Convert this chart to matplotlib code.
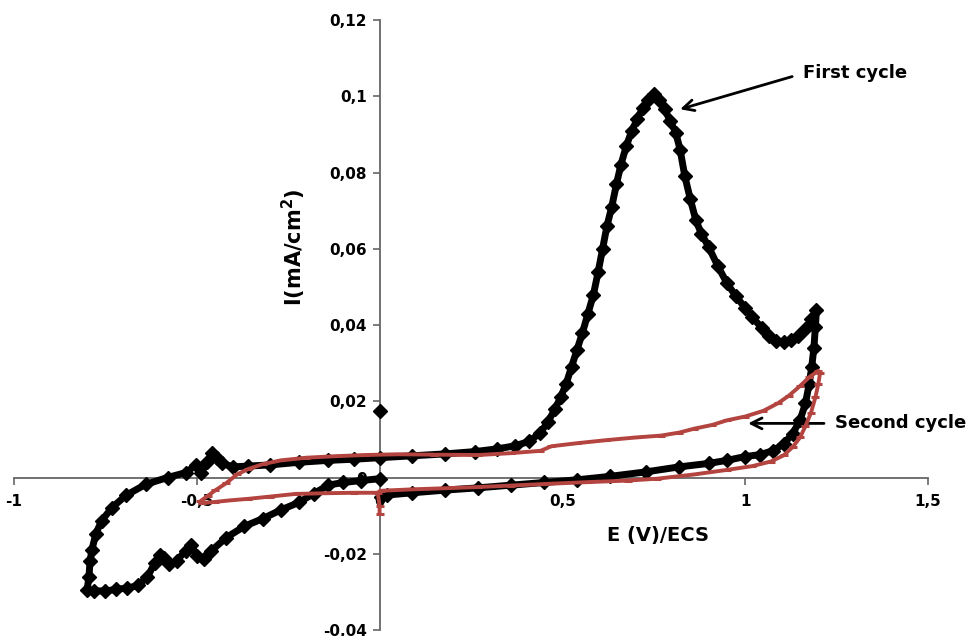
import matplotlib
matplotlib.use("Agg")
import matplotlib.pyplot as plt

plt.rcParams['font.family'] = ['DejaVu Sans']

# first cycle (black diamonds): transient point, then 0 -> -0.8 -> 1.2 -> 0
start_E = [0.0]
start_I = [0.0175]

first_E = [0.0, -0.05, -0.10, -0.14, -0.18, -0.22, -0.27, -0.32, -0.37, -0.42,
           -0.46, -0.48, -0.50, -0.515, -0.53, -0.555, -0.575, -0.59, -0.60, -0.615,
           -0.635, -0.66, -0.69, -0.72, -0.75, -0.78, -0.80,
           -0.795, -0.792, -0.787, -0.776, -0.76, -0.732, -0.694, -0.64, -0.58, -0.53,
           -0.503, -0.488, -0.472, -0.459, -0.445, -0.432, -0.40, -0.36, -0.30, -0.22,
           -0.14, -0.07, 0.0, 0.09, 0.18, 0.26, 0.32, 0.37, 0.41, 0.44,
           0.46, 0.48, 0.495, 0.51, 0.525, 0.54, 0.555, 0.57, 0.585, 0.598,
           0.61, 0.622, 0.635, 0.648, 0.66, 0.675, 0.69, 0.705, 0.72, 0.735,
           0.75, 0.765, 0.78, 0.795, 0.81, 0.822, 0.835, 0.85, 0.865, 0.88,
           0.90, 0.925, 0.95, 0.975, 1.0, 1.02, 1.045, 1.065, 1.085, 1.105,
           1.125, 1.145, 1.165, 1.18, 1.195,
           1.192, 1.188, 1.182, 1.175, 1.165, 1.15, 1.13, 1.105, 1.075, 1.04,
           1.0, 0.95, 0.90, 0.82, 0.73, 0.63, 0.54, 0.45, 0.36, 0.27,
           0.18, 0.09, 0.02, 0.003]
first_I = [-0.0003, -0.0008, -0.0013, -0.002, -0.0042, -0.0065, -0.0085, -0.0108, -0.0128, -0.0158,
           -0.0192, -0.0213, -0.0205, -0.0176, -0.0192, -0.0218, -0.0228, -0.021, -0.0203, -0.0225,
           -0.026, -0.0283, -0.029, -0.0293, -0.0298, -0.0297, -0.0295,
           -0.026, -0.022, -0.019, -0.0147, -0.0113, -0.0079, -0.0047, -0.0018, 0.0, 0.0013,
           0.0032, 0.0012, 0.004, 0.0064, 0.0052, 0.0037, 0.0028, 0.003, 0.0033, 0.004,
           0.0045, 0.0048, 0.0052, 0.0057, 0.0062, 0.0068, 0.0075, 0.0083, 0.0095, 0.0118,
           0.0145, 0.018, 0.021, 0.0245, 0.029, 0.0335, 0.038, 0.043, 0.048, 0.054,
           0.060, 0.066, 0.071, 0.077, 0.082, 0.087, 0.091, 0.094, 0.097, 0.099,
           0.1005, 0.099, 0.0966, 0.0935, 0.0905, 0.086, 0.079, 0.073, 0.0675, 0.064,
           0.0605, 0.0555, 0.051, 0.0475, 0.0445, 0.042, 0.0393, 0.037, 0.0357, 0.0356,
           0.0362, 0.0372, 0.039, 0.0415, 0.044,
           0.0395, 0.034, 0.029, 0.0245, 0.0195, 0.015, 0.0115, 0.0088, 0.007, 0.006,
           0.0055, 0.0045, 0.0037, 0.0028, 0.0015, 0.0003, -0.0006, -0.0013, -0.002, -0.0027,
           -0.0033, -0.004, -0.0046, -0.005]

# second cycle (red): 0 -> -0.5 -> 1.2 -> 0
second_E = [0.0, 0.0, -0.005, -0.07, -0.14, -0.23, -0.30, -0.36, -0.41, -0.45,
            -0.485, -0.49, -0.47, -0.45, -0.42, -0.39, -0.36, -0.32, -0.27, -0.20,
            -0.12, -0.04, 0.05, 0.15, 0.27, 0.36, 0.44, 0.47, 0.54, 0.62,
            0.70, 0.77, 0.82, 0.86, 0.91, 0.95, 1.0, 1.05, 1.09, 1.12,
            1.15, 1.175, 1.20, 1.205, 1.20, 1.192, 1.18, 1.165, 1.15, 1.13,
            1.105, 1.07, 1.02, 0.95, 0.86, 0.76, 0.68, 0.57, 0.45, 0.36,
            0.27, 0.18, 0.09, 0.02, 0.003]
second_I = [-0.0095, -0.0075, -0.004, -0.004, -0.0041, -0.0043, -0.005, -0.0056, -0.006, -0.0064,
            -0.0067, -0.0062, -0.0048, -0.0034, -0.0015, 0.0008, 0.0022, 0.0035, 0.0045, 0.0052,
            0.0056, 0.0059, 0.0061, 0.006, 0.0059, 0.0064, 0.007, 0.0082, 0.009, 0.0098,
            0.0105, 0.011, 0.0118, 0.0128, 0.0138, 0.015, 0.016, 0.0175, 0.0195, 0.0215,
            0.024, 0.0263, 0.028, 0.0275, 0.0245, 0.021, 0.017, 0.0135, 0.0105, 0.008,
            0.0058, 0.0042, 0.003, 0.002, 0.0008, -0.0003, -0.0008, -0.0012, -0.0017, -0.0021,
            -0.0025, -0.0028, -0.0031, -0.0034, -0.0035]

x_ticks = [-1, -0.5, 0, 0.5, 1, 1.5]
x_labels = ['-1', '-0,5', '0', '0,5', '1', '1,5']
y_ticks = [-0.04, -0.02, 0, 0.02, 0.04, 0.06, 0.08, 0.1, 0.12]
y_labels = ['-0,04', '-0,02', '0', '0,02', '0,04', '0,06', '0,08', '0,1', '0,12']

red = '#b4443f'

fig = plt.figure(figsize=(9.72, 6.36), dpi=100)
ax = fig.add_axes([0.0144, 0.0094, 0.9403, 0.9591])

ax.plot(first_E, first_I, color='black', lw=5, marker='D', ms=7, zorder=3)
ax.plot(start_E, start_I, color='black', ls='none', marker='D', ms=7, zorder=3)
ax.plot(second_E, second_I, color=red, lw=2.8, marker='_', ms=6, mew=2.2, zorder=4)

ax.set_xlim(-1, 1.5)
ax.set_ylim(-0.04, 0.12)

for s in ['top', 'right']:
    ax.spines[s].set_visible(False)
ax.spines['left'].set_position(('data', 0))
ax.spines['bottom'].set_position(('data', 0))
for s in ['left', 'bottom']:
    ax.spines[s].set_color('#666666')
    ax.spines[s].set_linewidth(1.3)

ax.set_xticks(x_ticks)
ax.set_xticklabels(x_labels, fontweight='bold', fontsize=11)
ax.set_yticks(y_ticks)
ax.set_yticklabels(y_labels, fontweight='bold', fontsize=11)
ax.tick_params(axis='x', direction='out', length=5, width=1.2, color='#666666', pad=7)
ax.tick_params(axis='y', direction='out', length=5, width=1.2, color='#666666', pad=4)

ax.text(0.762, -0.0153, 'E (V)/ECS', fontsize=14, fontweight='bold', ha='center', va='center')
ax.text(-0.235, 0.0605, 'I(mA/cm$^\\mathbf{2}$)', fontsize=15, fontweight='bold',
        rotation=90, ha='center', va='center')

ax.annotate('First cycle', xy=(0.822, 0.0966), xytext=(1.158, 0.106),
            fontsize=13, fontweight='bold', ha='left', va='center',
            arrowprops=dict(arrowstyle='->,head_length=0.6,head_width=0.3', color='black',
                            lw=2, relpos=(0, 0.5), shrinkA=6, shrinkB=0))
ax.annotate('Second cycle', xy=(1.008, 0.0142), xytext=(1.246, 0.0142),
            fontsize=13, fontweight='bold', ha='left', va='center',
            arrowprops=dict(arrowstyle='->,head_length=0.6,head_width=0.3', color='black',
                            lw=2, relpos=(0, 0.5), shrinkA=6, shrinkB=0))

plt.savefig('out.png', dpi=100)
